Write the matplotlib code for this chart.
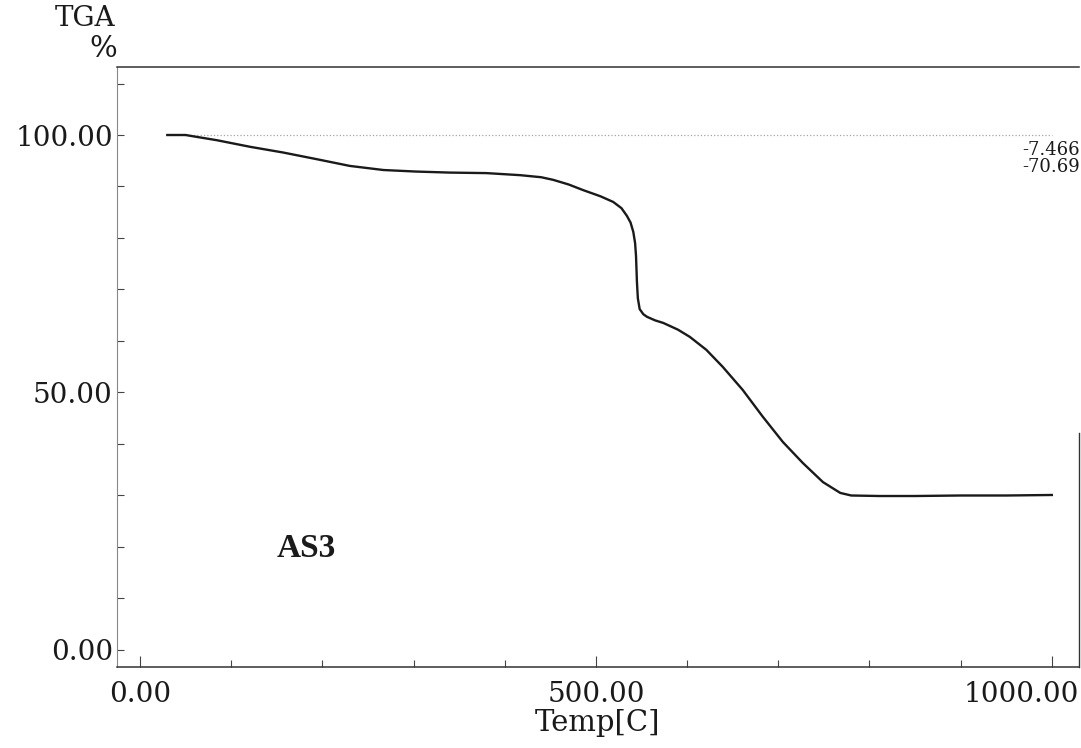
import matplotlib
matplotlib.use("Agg")
import matplotlib.pyplot as plt
from matplotlib.transforms import ScaledTranslation

# TGA curve for sample AS3
temp = [30, 50, 60, 84, 121, 157, 194, 230, 267, 303, 340, 380, 417, 440,
        453, 470, 486, 505, 519, 528, 534, 538, 541, 543, 544, 545, 546, 548,
        552, 556, 565, 574, 590, 603, 621, 639, 661, 683, 705, 727, 749, 768,
        780, 811, 850, 900, 950, 1000]
mass = [100.0, 100.0, 99.7, 99.0, 97.7, 96.6, 95.3, 94.0, 93.2, 92.9, 92.7,
        92.6, 92.2, 91.8, 91.3, 90.4, 89.3, 88.1, 87.0, 85.8, 84.3, 83.0, 81.2,
        79.0, 76.5, 71.5, 68.3, 66.2, 65.2, 64.7, 64.0, 63.5, 62.2, 60.8, 58.3,
        55.0, 50.5, 45.3, 40.4, 36.3, 32.6, 30.5, 30.0, 29.9, 29.9, 30.0, 30.0,
        30.1]

x_ticks = [0, 500, 1000]
x_tick_labels = ["0.00", "500.00", "1000.00"]
y_ticks = [0, 50, 100]
y_tick_labels = ["0.00", "50.00", "100.00"]
step_values = ["-7.466", "-70.69"]
sample_name = "AS3"

plt.rcParams["font.family"] = ["DejaVu Serif"]
INK = "#1a1a1a"

fig = plt.figure(figsize=(10.81, 7.48), dpi=100)
ax = fig.add_axes([0.1082, 0.1083, 0.8898, 0.8021])

ax.hlines(100, temp[0], 1000, colors="#a5a5a5", linestyles=":", linewidth=0.9)
ax.plot(temp, mass, color=INK, linewidth=1.7)

ax.set_xlim(-25.2, 1029.6)
ax.set_ylim(-3.3, 113.2)

ax.set_xticks(x_ticks)
ax.set_xticklabels(x_tick_labels)
ax.set_xticks(range(0, 1001, 100), minor=True)
ax.set_yticks(y_ticks)
ax.set_yticklabels(y_tick_labels)
ax.set_yticks(range(0, 111, 10), minor=True)

ax.tick_params(axis="both", which="both", direction="in", colors="#444",
               labelcolor=INK, labelsize=20, width=0.8)
ax.tick_params(axis="x", which="major", length=8, pad=10)
ax.tick_params(axis="x", which="minor", length=5)
ax.tick_params(axis="y", which="both", length=5, pad=3)

# last x label sits flush with the right edge in the original
lbl = ax.get_xticklabels()[-1]
lbl.set_ha("right")
lbl.set_transform(lbl.get_transform() + ScaledTranslation(0.27, 0, fig.dpi_scale_trans))

ax.set_xlabel("Temp[C]", fontsize=21, color=INK, labelpad=1)

for side in ["top", "bottom"]:
    ax.spines[side].set_color("#333")
    ax.spines[side].set_linewidth(1.1)
ax.spines["left"].set_color("#888")
ax.spines["left"].set_linewidth(0.8)
ax.spines["right"].set_visible(False)
ax.plot([1, 1], [0, 0.39], transform=ax.transAxes, color="#333",
        linewidth=1.0, clip_on=False)

fig.text(115 / 1081, 1 - 18 / 748, "TGA", ha="right", va="center",
         fontsize=20, color=INK)
fig.text(117 / 1081, 1 - 49 / 748, "%", ha="right", va="center",
         fontsize=21, color=INK)

fig.text(1080 / 1081, 1 - 150 / 748, step_values[0], ha="right", va="center",
         fontsize=13, color=INK)
fig.text(1080 / 1081, 1 - 167 / 748, step_values[1], ha="right", va="center",
         fontsize=13, color=INK)

ax.text(182, 19.8, sample_name, ha="center", va="center", fontsize=24,
        fontweight="bold", family=["Liberation Serif"], color=INK)

fig.savefig("out.png", dpi=100)
